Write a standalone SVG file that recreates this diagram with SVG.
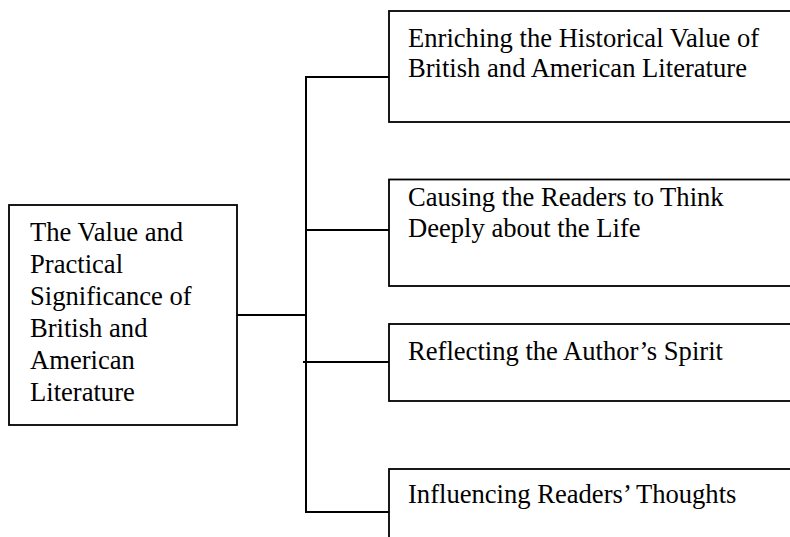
<svg xmlns="http://www.w3.org/2000/svg" width="790" height="537" viewBox="0 0 790 537">
<style>
.box{fill:#fff;stroke:#000;stroke-width:1.8}
.ln{fill:none;stroke:#000;stroke-width:2}
text{font-family:"Liberation Serif","Times New Roman",serif;font-size:26.6px;fill:#000}
</style>
<rect width="790" height="537" fill="#fff"/>
<g id="connectors">
<line class="ln" x1="306" y1="77" x2="306" y2="512"/>
<line class="ln" x1="305" y1="77" x2="389" y2="77"/>
<line class="ln" x1="305" y1="230" x2="389" y2="230"/>
<line class="ln" x1="237" y1="315" x2="307" y2="315"/>
<line class="ln" x1="303" y1="362" x2="389" y2="362"/>
<line class="ln" x1="305" y1="512" x2="389" y2="512"/>
</g>
<g id="root">
<rect class="box" x="9" y="205" width="228" height="220"/>
<text x="30" y="240.7">The Value and</text>
<text x="30" y="272.7">Practical</text>
<text x="30" y="304.7">Significance of</text>
<text x="30" y="336.7">British and</text>
<text x="30" y="368.7">American</text>
<text x="30" y="400.7">Literature</text>
</g>
<g id="n1">
<rect class="box" x="389" y="11" width="420" height="111"/>
<text x="408" y="46.5">Enriching the Historical Value of</text>
<text x="408" y="77.2">British and American Literature</text>
</g>
<g id="n2">
<rect class="box" x="389" y="179.5" width="420" height="106.5"/>
<text x="408" y="206">Causing the Readers to Think</text>
<text x="408" y="236.7">Deeply about the Life</text>
</g>
<g id="n3">
<rect class="box" x="389" y="324" width="420" height="77"/>
<text x="408" y="360">Reflecting the Author’s Spirit</text>
</g>
<g id="n4">
<rect class="box" x="389" y="469" width="420" height="90"/>
<text x="408" y="503">Influencing Readers’ Thoughts</text>
</g>
</svg>
